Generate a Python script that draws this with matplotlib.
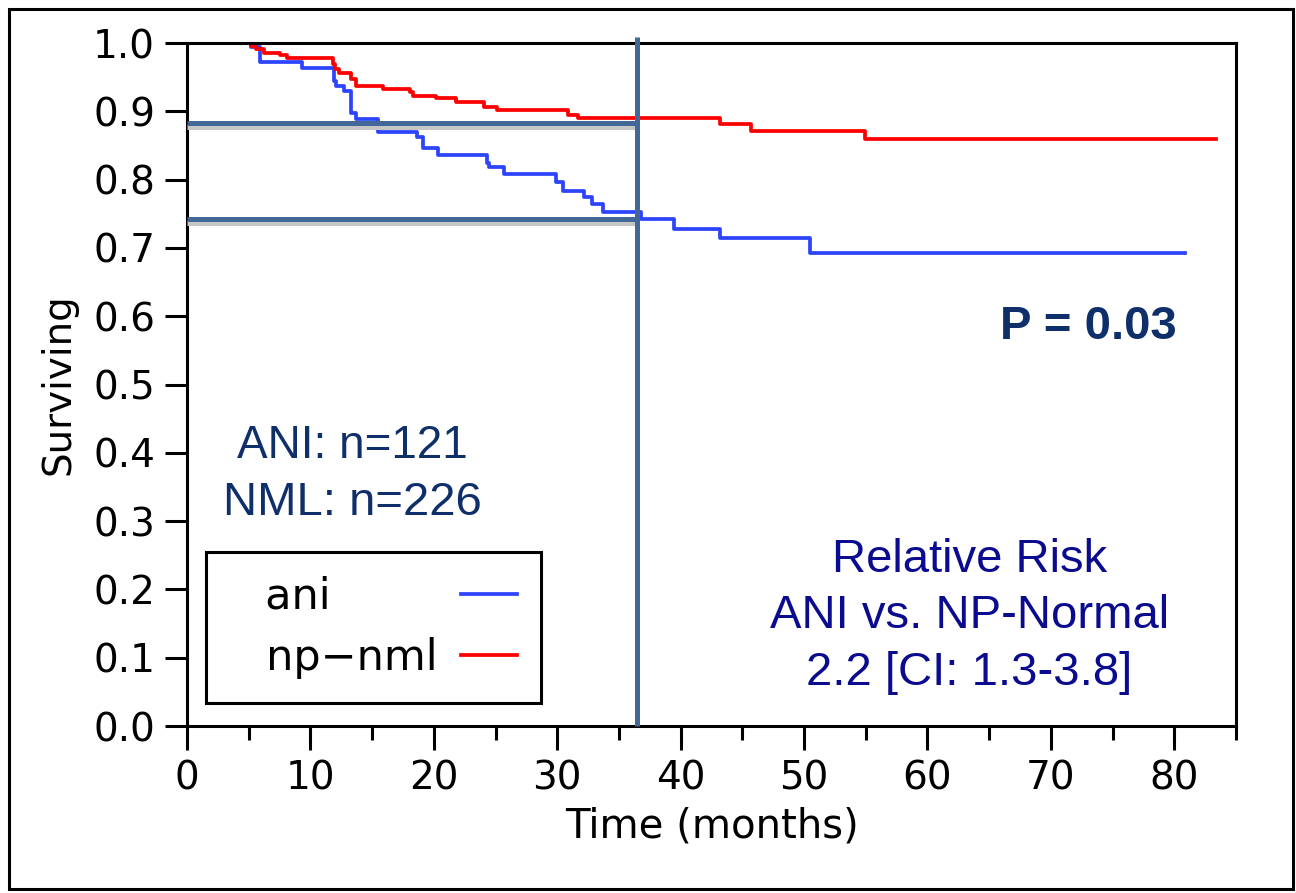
import matplotlib
matplotlib.use("Agg")
import matplotlib.pyplot as plt
import matplotlib.patheffects as pe
from matplotlib.patches import Rectangle
from matplotlib.ticker import MultipleLocator, FormatStrFormatter

# Kaplan-Meier steps (months, fraction surviving)
ani_time = [0, 5.2, 5.9, 9.3, 11.9, 12.1, 12.7, 13.3, 13.7, 15.5, 18.6, 19.1, 20.3,
            24.3, 24.5, 25.7, 29.9, 30.5, 32.2, 32.8, 33.7, 36.8, 39.5, 43.2, 50.5, 80.9]
ani_surv = [1.0, 0.994, 0.972, 0.963, 0.945, 0.937, 0.930, 0.897, 0.889, 0.870, 0.862, 0.846, 0.836,
            0.825, 0.818, 0.808, 0.797, 0.784, 0.774, 0.764, 0.753, 0.742, 0.727, 0.715, 0.693, 0.693]

nml_time = [0, 5.2, 5.6, 6.2, 7.5, 8.1, 11.8, 12.0, 12.3, 13.3, 13.7, 15.9, 18.1, 18.3,
            20.2, 21.8, 24.1, 25.1, 30.9, 31.7, 43.2, 45.7, 54.9, 83.4]
nml_surv = [1.0, 0.996, 0.992, 0.986, 0.982, 0.978, 0.969, 0.962, 0.956, 0.947, 0.937, 0.933, 0.928, 0.923,
            0.919, 0.914, 0.907, 0.902, 0.894, 0.890, 0.882, 0.871, 0.859, 0.859]

landmark_month = 36.5
landmark_surv = [0.8825, 0.743]

ref_color = '#416896'

fig = plt.figure(figsize=(12.96, 8.93), dpi=100)
ax = fig.add_axes([0.1443, 0.187, 0.8094, 0.7648])

# legend rows are right-aligned when text comes first, so pad "ani" out to the width of "np-nml"
ax.step(ani_time, ani_surv, where='post', color='#2d44ff', lw=2.7,
        label='\u2002 ani\u2003\u2003\u2002', zorder=2)
ax.step(nml_time, nml_surv, where='post', color='#ff0000', lw=2.7,
        label='\u2002 np\u2212nml', zorder=2)

# landmark lines at 3 years
shadow = [pe.SimpleLineShadow(offset=(0, -3), shadow_color='#c6c6c6', alpha=1.0), pe.Normal()]
for s in landmark_surv:
    ax.plot([0, landmark_month], [s, s], color=ref_color, lw=3.6, zorder=3,
            solid_capstyle='butt', path_effects=shadow)
ax.plot([landmark_month, landmark_month], [0, 1.009], color=ref_color, lw=3.6,
        zorder=3, clip_on=False, solid_capstyle='butt')

ax.set_xlim(0, 85)
ax.set_ylim(0, 1.0)
ax.xaxis.set_major_locator(MultipleLocator(10))
ax.xaxis.set_minor_locator(MultipleLocator(5))
ax.yaxis.set_major_locator(MultipleLocator(0.1))
ax.yaxis.set_major_formatter(FormatStrFormatter('%.1f'))

for sp in ax.spines.values():
    sp.set_linewidth(2.2)
ax.tick_params(axis='both', which='major', direction='out', width=2.2, labelsize=28)
ax.tick_params(axis='y', which='major', length=16, pad=7)
ax.tick_params(axis='x', which='major', length=17, pad=7)
ax.tick_params(axis='x', which='minor', direction='out', length=10, width=2.2)

ax.set_xlabel('Time (months)', fontsize=29)
ax.set_ylabel('Surviving', fontsize=28)
ax.xaxis.set_label_coords(0.5, -0.118)
ax.yaxis.set_label_coords(-0.104, 0.5)

navy = '#0f2f6b'
blue_txt = '#0b0b8f'
ax.text(13.4, 0.3925, 'ANI: n=121', ha='center', va='baseline', fontsize=33,
        family='Liberation Sans', color=navy)
ax.text(13.4, 0.309, 'NML: n=226', ha='center', va='baseline', fontsize=34,
        family='Liberation Sans', color=navy)
ax.text(73.0, 0.566, 'P = 0.03', ha='center', va='baseline', fontsize=34,
        family='Liberation Sans', weight='bold', color=navy)
ax.text(63.4, 0.226, 'Relative Risk', ha='center', va='baseline', fontsize=34,
        family='Liberation Sans', color=blue_txt)
ax.text(63.4, 0.1437, 'ANI vs. NP-Normal', ha='center', va='baseline', fontsize=34,
        family='Liberation Sans', color=blue_txt)
ax.text(63.4, 0.060, '2.2 [CI: 1.3-3.8]', ha='center', va='baseline', fontsize=34,
        family='Liberation Sans', color=blue_txt)

leg = ax.legend(loc='lower left', bbox_to_anchor=(0.018, 0.034), borderaxespad=0,
                markerfirst=False, fontsize=31, handlelength=1.3, handletextpad=0.55,
                borderpad=0.55, labelspacing=0.45, fancybox=False, framealpha=1,
                edgecolor='black')
leg.get_frame().set_linewidth(2.2)

fig.patches.append(Rectangle((9 / 1296, 4 / 893), 1284 / 1296, 880 / 893,
                             transform=fig.transFigure, fill=False, lw=2.2, ec='black'))

fig.savefig('out.png', dpi=100)
